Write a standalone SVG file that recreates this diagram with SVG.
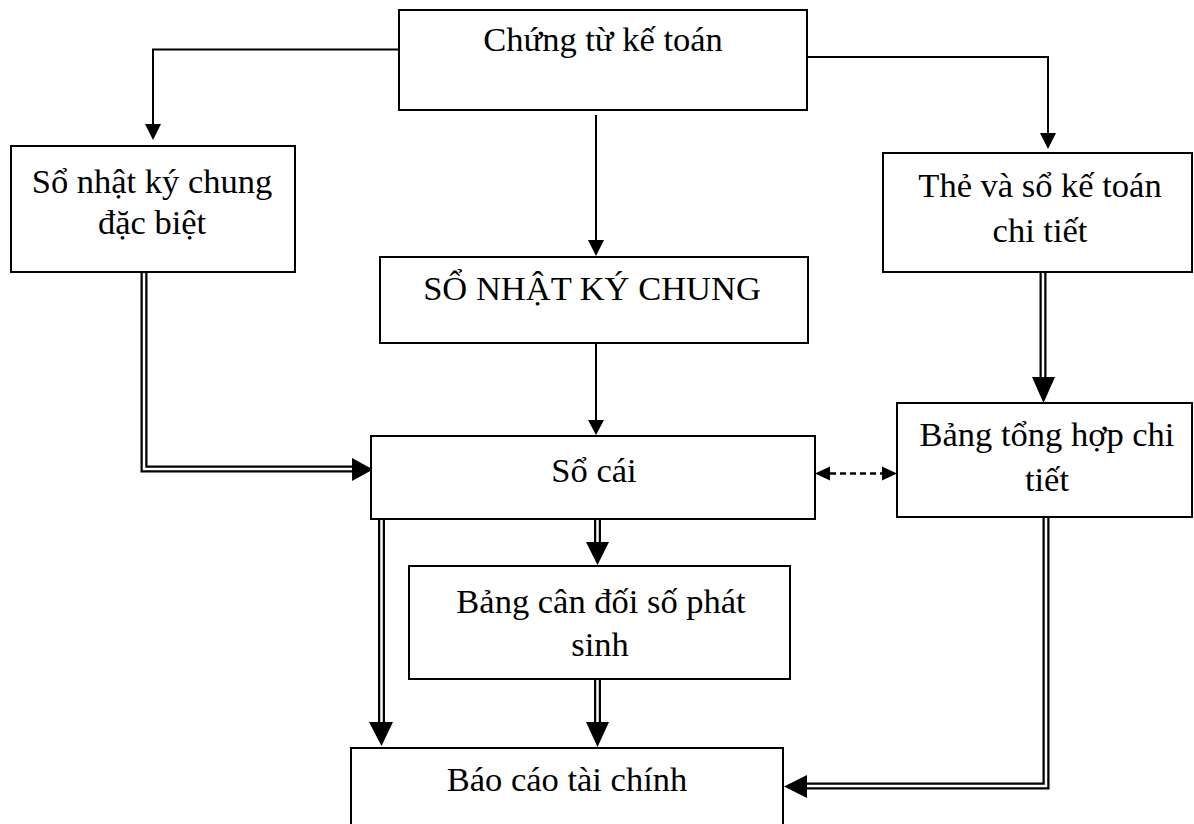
<svg xmlns="http://www.w3.org/2000/svg" width="1194" height="824" viewBox="0 0 1194 824">
<style>
.box{fill:#fff;stroke:#000;stroke-width:2}
text{font-family:"Liberation Serif","Times New Roman",serif;font-size:34.5px;fill:#000;text-anchor:middle}
.s{fill:none;stroke:#000;stroke-width:2}
.dO{fill:none;stroke:#000;stroke-width:7;stroke-linejoin:miter}
.dI{fill:none;stroke:#fff;stroke-width:2.5;stroke-linejoin:miter}
.ah{fill:#000}
.dash{fill:none;stroke:#000;stroke-width:2.5;stroke-dasharray:6 4}
</style>
<rect width="1194" height="824" fill="#fff"/>
<g id="connectors">
<polyline class="s" points="399,49.5 153,49.5 153,126"/>
<polygon class="ah" points="145,124 161,124 153,140"/>
<polyline class="s" points="807,57 1048,57 1048,135"/>
<polygon class="ah" points="1040,133 1056,133 1048,149"/>
<line class="s" x1="596" y1="115" x2="596" y2="242"/>
<polygon class="ah" points="588,240 604,240 596,256"/>
<line class="s" x1="596" y1="343" x2="596" y2="422"/>
<polygon class="ah" points="588,420 604,420 596,435"/>
<polyline class="dO" points="144,272 144,469 354,469"/>
<polyline class="dI" points="144,272 144,469 354,469"/>
<polygon class="ah" points="352,458 373,469.5 352,481"/>
<line class="dO" x1="597.5" y1="519" x2="597.5" y2="544"/>
<line class="dI" x1="597.5" y1="519" x2="597.5" y2="544"/>
<polygon class="ah" points="586,542 609,542 597.5,565"/>
<line class="dO" x1="381.5" y1="519" x2="381.5" y2="724"/>
<line class="dI" x1="381.5" y1="519" x2="381.5" y2="724"/>
<polygon class="ah" points="369,722 393,722 381.5,746"/>
<line class="dO" x1="597.5" y1="679" x2="597.5" y2="724"/>
<line class="dI" x1="597.5" y1="679" x2="597.5" y2="724"/>
<polygon class="ah" points="586,722 609,722 597.5,747"/>
<line class="dO" x1="1043" y1="272" x2="1043" y2="379"/>
<line class="dI" x1="1043" y1="272" x2="1043" y2="379"/>
<polygon class="ah" points="1032,377 1055,377 1043.5,403"/>
<polyline class="dO" points="1046,517 1046,786 805,786"/>
<polyline class="dI" points="1046,517 1046,786 805,786"/>
<polygon class="ah" points="807,775 807,798 784,786.5"/>
<line class="dash" x1="830" y1="473.5" x2="882" y2="473.5"/>
<polygon class="ah" points="830,466.5 830,480.5 815,473.5"/>
<polygon class="ah" points="882,466.5 882,480.5 897,473.5"/>
</g>
<g id="n1"><rect class="box" x="399" y="10" width="408" height="100"/><text x="603" y="51">Chứng từ kế toán</text></g>
<g id="n2"><rect class="box" x="11" y="146" width="284" height="126"/><text x="152" y="193">Sổ nhật ký chung</text><text x="152" y="234">đặc biệt</text></g>
<g id="n3"><rect class="box" x="883" y="153" width="309" height="119"/><text x="1040" y="197">Thẻ và sổ kế toán</text><text x="1040" y="242">chi tiết</text></g>
<g id="n4"><rect class="box" x="380" y="257" width="428" height="86"/><text x="592" y="300">SỔ NHẬT KÝ CHUNG</text></g>
<g id="n5"><rect class="box" x="371" y="436" width="444" height="83"/><text x="594" y="482">Sổ cái</text></g>
<g id="n6"><rect class="box" x="897" y="403" width="295" height="114"/><text x="1047" y="446">Bảng tổng hợp chi</text><text x="1047" y="491">tiết</text></g>
<g id="n7"><rect class="box" x="409" y="566" width="381" height="113"/><text x="601" y="613">Bảng cân đối số phát</text><text x="600" y="656">sinh</text></g>
<g id="n8"><rect class="box" x="351" y="748" width="432" height="90"/><text x="567" y="791">Báo cáo tài chính</text></g>
</svg>
